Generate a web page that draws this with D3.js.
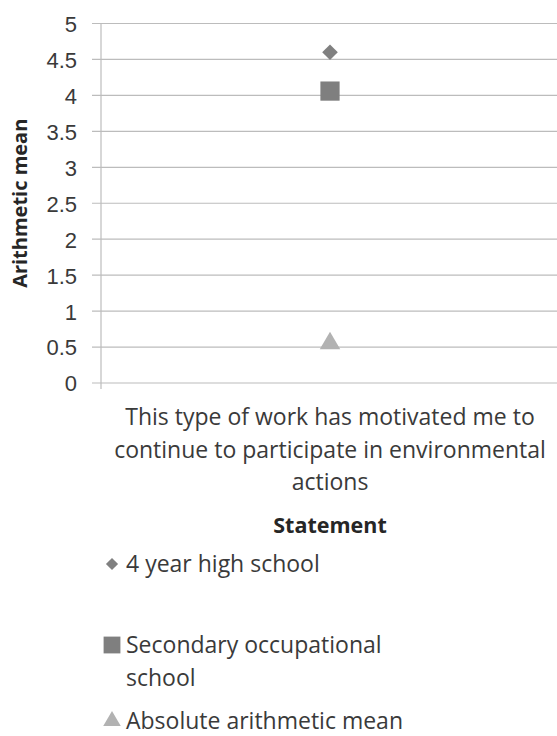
<!DOCTYPE html>
<html>
<head>
<meta charset="utf-8">
<script src="https://cdn.jsdelivr.net/npm/d3@7"></script>
<style>
  body { margin: 0; background: #fff; }
  svg { display: block; font-family: "Open Sans", sans-serif; }
</style>
</head>
<body>
<svg id="chart" width="557" height="736"></svg>
<script>
const categories = ["This type of work has motivated me to continue to participate in environmental actions"];
const categoryLines = ["This type of work has motivated me to", "continue to participate in environmental", "actions"];
const seriesNames = ["4 year high school", "Secondary occupational school", "Absolute arithmetic mean"];
const highSchool = [4.6];
const occupational = [4.06];
const absoluteMean = [0.55];
const yTicks = [0, 0.5, 1, 1.5, 2, 2.5, 3, 3.5, 4, 4.5, 5];

const svg = d3.select("#chart");
const plotLeft = 101, plotRight = 559, plotTop = 23.5, plotBottom = 383;
const textColor = "#3a3a3a";

const x = d3.scaleBand().domain(categories).range([plotLeft, plotRight]);
const y = d3.scaleLinear().domain([0, 5]).range([plotBottom, plotTop]);

// gridlines
svg.append("g")
  .selectAll("line")
  .data(yTicks)
  .enter()
  .append("line")
  .attr("x1", plotLeft - 9)
  .attr("x2", plotRight)
  .attr("y1", (d) => y(d))
  .attr("y2", (d) => y(d))
  .attr("stroke", "#bcbcbc")
  .attr("stroke-width", 1.2);

// y axis
const yAxis = svg.append("g")
  .attr("transform", `translate(${plotLeft},0)`)
  .call(d3.axisLeft(y).tickValues(yTicks).tickSize(9).tickFormat(d3.format("")));
yAxis.select(".domain").attr("stroke", "#bcbcbc").attr("stroke-width", 1.2)
  .attr("d", `M0,${plotTop}V${plotBottom + 6}`);
yAxis.selectAll(".tick line").attr("stroke", "none");
yAxis.selectAll(".tick text")
  .attr("x", -24)
  .attr("dy", "0.36em")
  .attr("fill", textColor)
  .style("font-size", "22px");

svg.append("text")
  .attr("transform", `translate(27,${(plotTop + plotBottom) / 2}) rotate(-90)`)
  .attr("text-anchor", "middle")
  .attr("fill", "#262626")
  .style("font-size", "20px")
  .style("font-weight", "bold")
  .text("Arithmetic mean");

// category label
const cx = x(categories[0]) + x.bandwidth() / 2;
svg.append("text")
  .attr("text-anchor", "middle")
  .attr("fill", textColor)
  .style("font-size", "23px")
  .selectAll("tspan")
  .data(categoryLines)
  .enter()
  .append("tspan")
  .attr("x", cx)
  .attr("y", (d, i) => 425 + i * 32.5)
  .text((d) => d);

svg.append("text")
  .attr("x", cx)
  .attr("y", 533)
  .attr("text-anchor", "middle")
  .attr("fill", "#262626")
  .style("font-size", "21.5px")
  .style("font-weight", "bold")
  .text("Statement");

// markers
const sym = (type, size) => d3.symbol().type(type).size(size)();
const series = [
  { name: seriesNames[0], values: highSchool, type: d3.symbolDiamond2, size: 155, color: "#808080", legendSize: 95 },
  { name: seriesNames[1], values: occupational, type: d3.symbolSquare2, size: 470, color: "#7f7f7f", legendSize: 360 },
  { name: seriesNames[2], values: absoluteMean, type: d3.symbolTriangle2, size: 300, color: "#b2b2b2", legendSize: 220 }
];

series.forEach((s) => {
  svg.append("g")
    .selectAll("path")
    .data(s.values)
    .enter()
    .append("path")
    .attr("d", sym(s.type, s.size))
    .attr("transform", (d, i) => `translate(${x(categories[i]) + x.bandwidth() / 2},${y(d)})`)
    .attr("fill", s.color);
});

// legend
const legendRows = [
  { lines: ["4 year high school"], y: 564 },
  { lines: ["Secondary occupational", "school"], y: 645 },
  { lines: ["Absolute arithmetic mean"], y: 721 }
];
const legend = svg.append("g");
series.forEach((s, i) => {
  const row = legendRows[i];
  legend.append("path")
    .attr("d", sym(s.type, s.legendSize))
    .attr("transform", `translate(112,${row.y})`)
    .attr("fill", s.color);
  legend.append("text")
    .attr("fill", textColor)
    .style("font-size", "23px")
    .selectAll("tspan")
    .data(row.lines)
    .enter()
    .append("tspan")
    .attr("x", 126)
    .attr("y", (d, j) => row.y + 8 + j * 33)
    .text((d) => d);
});
</script>
</body>
</html>
